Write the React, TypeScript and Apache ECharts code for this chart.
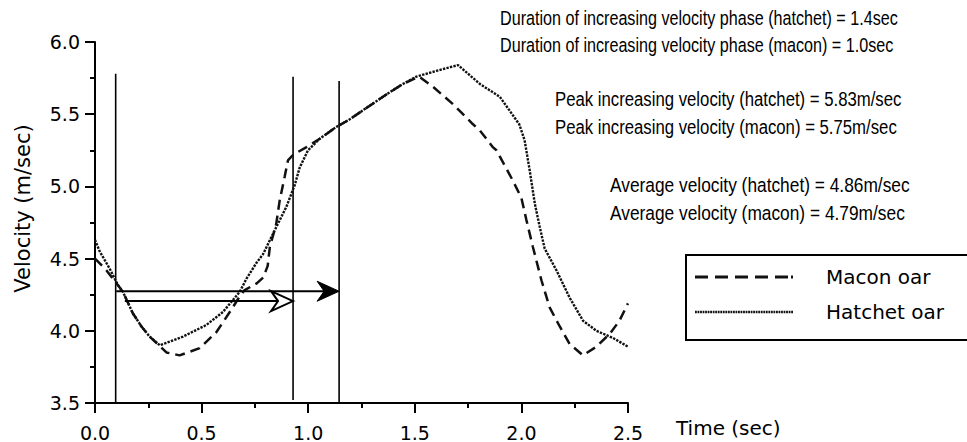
import { useEffect, useRef } from 'react';
import * as echarts from 'echarts';

// Time (sec) / velocity (m/sec)
const maconData: number[][] = [
  [0.0, 4.5], [0.053, 4.42], [0.108, 4.315], [0.131, 4.27], [0.178, 4.12], [0.218, 4.03],
  [0.256, 3.96], [0.3, 3.9], [0.335, 3.85], [0.397, 3.83], [0.491, 3.88], [0.569, 3.99],
  [0.632, 4.13], [0.671, 4.22], [0.7, 4.28], [0.76, 4.33], [0.79, 4.37], [0.81, 4.45],
  [0.82, 4.58], [0.85, 4.74], [0.866, 4.9], [0.89, 5.07], [0.905, 5.18], [0.93, 5.22],
  [0.99, 5.27], [1.054, 5.33], [1.13, 5.41], [1.19, 5.46], [1.26, 5.53], [1.37, 5.64],
  [1.445, 5.71], [1.52, 5.76], [1.585, 5.69], [1.679, 5.57], [1.773, 5.43], [1.804, 5.39],
  [1.867, 5.27], [1.883, 5.25], [1.96, 5.04], [2.0, 4.92], [2.023, 4.77], [2.054, 4.58],
  [2.094, 4.35], [2.133, 4.16], [2.18, 4.03], [2.226, 3.91], [2.289, 3.83], [2.352, 3.89],
  [2.415, 3.98], [2.46, 4.07], [2.5, 4.19],
];

const hatchetData: number[][] = [
  [0.0, 4.63], [0.022, 4.55], [0.069, 4.43], [0.108, 4.315], [0.131, 4.27], [0.178, 4.12],
  [0.218, 4.03], [0.256, 3.96], [0.304, 3.9], [0.413, 3.96], [0.522, 4.04], [0.6, 4.13],
  [0.679, 4.27], [0.71, 4.36], [0.757, 4.47], [0.788, 4.53], [0.851, 4.72], [0.898, 4.86],
  [0.937, 5.01], [0.96, 5.13], [0.999, 5.25], [1.054, 5.33], [1.13, 5.41], [1.19, 5.46],
  [1.26, 5.53], [1.37, 5.64], [1.445, 5.71], [1.507, 5.76], [1.601, 5.8], [1.703, 5.84],
  [1.805, 5.71], [1.899, 5.62], [1.99, 5.43], [2.015, 5.32], [2.039, 5.11], [2.063, 4.88],
  [2.086, 4.72], [2.109, 4.57], [2.164, 4.42], [2.226, 4.23], [2.289, 4.07], [2.352, 4.0],
  [2.43, 3.95], [2.5, 3.89],
];

// vertical phase markers: [time, fromVelocity, toVelocity]
const phaseMarkers: number[][] = [
  [0.097, 3.5, 5.78],
  [0.929, 3.52, 5.76],
  [1.145, 3.5, 5.73],
];

// duration arrows: [fromTime, toTime, velocity, filledHead(1) / openHead(0)]
const durationArrows: number[][] = [
  [0.1, 1.145, 4.274, 1],
  [0.14, 0.929, 4.206, 0],
];

const seriesNames = ['Macon oar', 'Hatchet oar'];

const noteTexts = [
  'Duration of increasing velocity phase (hatchet) = 1.4sec',
  'Duration of increasing velocity phase (macon) = 1.0sec',
  'Peak increasing velocity (hatchet) = 5.83m/sec',
  'Peak increasing velocity (macon) = 5.75m/sec',
  'Average velocity (hatchet) = 4.86m/sec',
  'Average velocity (macon) = 4.79m/sec',
];

// layout of the notes: [left, capCenterY, targetWidthOfFirstLineOfPair]
const noteLayout = [
  [500, 18, 398],
  [500, 45, 398],
  [555, 100, 347],
  [555, 128, 347],
  [610, 185, 300],
  [610, 213, 300],
];

const NOTE_FONT_SIZE = 19.5;
const NOTE_FONT = 'Liberation Sans';

function measure(text: string, size: number, family: string): number {
  const c = document.createElement('canvas').getContext('2d');
  if (!c) return text.length * size * 0.5;
  c.font = `${size}px "${family}"`;
  return c.measureText(text).width;
}

function dashIcon(): string {
  let d = '';
  for (let x = 0; x < 90; x += 20) d += `M${x} 0h13v3h-13z`;
  d += 'M96 0h2v3h-2z';
  return 'path://' + d;
}

function dotIcon(): string {
  let d = '';
  for (let x = 0; x < 97; x += 2.5) d += `M${x} 0h1.8v2.4h-1.8z`;
  return 'path://' + d;
}

const black = '#000';

const tickOnlyAxis = (len: number) => ({
  axisLine: { show: false },
  axisTick: { show: true, inside: false, length: len, lineStyle: { color: black, width: 2 } },
  axisLabel: { show: false },
  splitLine: { show: false },
});

export default function App() {
  const ref = useRef<HTMLDivElement>(null);

  useEffect(() => {
    document.body.style.margin = '0';
    if (!ref.current) return;
    const chart = echarts.init(ref.current, undefined, { renderer: 'svg' });

    const noteGraphics = noteTexts.map((t, i) => {
      const pairFirst = noteTexts[i - (i % 2)];
      const w = measure(pairFirst, NOTE_FONT_SIZE, NOTE_FONT);
      const s = noteLayout[i][2] / w;
      return {
        type: 'text',
        x: noteLayout[i][0],
        y: noteLayout[i][1],
        scaleX: s,
        silent: true,
        style: {
          text: t,
          fontSize: NOTE_FONT_SIZE,
          fontFamily: NOTE_FONT,
          fill: black,
          align: 'left',
          verticalAlign: 'middle',
        },
      };
    });

    const tickFont = { fontFamily: 'DejaVu Sans', fontSize: 19, color: black };

    chart.setOption({
      animation: false,
      backgroundColor: '#fff',
      grid: { left: 95, top: 42, width: 533, height: 361, containLabel: false, outerBoundsMode: 'none' },
      legend: {
        data: [
          { name: seriesNames[0], icon: dashIcon() },
          { name: seriesNames[1], icon: dotIcon() },
        ],
        orient: 'vertical',
        left: 686,
        top: 255,
        itemWidth: 98,
        itemHeight: 3,
        itemGap: 15,
        padding: [12, 40, 18, 9],
        borderColor: black,
        borderWidth: 2,
        selectedMode: false,
        itemStyle: { color: '#111', borderWidth: 0 },
        textStyle: {
          fontFamily: 'DejaVu Sans',
          fontSize: 20,
          lineHeight: 20,
          color: black,
          padding: [0, 0, 0, 28],
        },
      },
      xAxis: [
        {
          type: 'value',
          position: 'bottom',
          min: 0,
          max: 2.5,
          interval: 0.5,
          name: 'Time (sec)',
          nameLocation: 'end',
          nameGap: 48,
          nameTextStyle: {
            fontFamily: 'DejaVu Sans',
            fontSize: 20,
            color: black,
            align: 'left',
            verticalAlign: 'top',
            lineHeight: 50,
          },
          axisLine: { show: true, onZero: false, lineStyle: { color: black, width: 2 } },
          axisTick: { show: true, inside: false, length: 10, lineStyle: { color: black, width: 2 } },
          splitLine: { show: false },
          axisLabel: { ...tickFont, inside: false, margin: 20, formatter: (v: number) => v.toFixed(1) },
        },
        {
          type: 'value',
          position: 'bottom',
          offset: 0,
          min: 0,
          max: 2.5,
          interval: 0.25,
          ...tickOnlyAxis(5),
        },
      ],
      yAxis: [
        {
          type: 'value',
          position: 'left',
          min: 3.5,
          max: 6,
          interval: 0.5,
          name: 'Velocity (m/sec)',
          nameLocation: 'middle',
          nameGap: 62,
          nameTextStyle: {
            fontFamily: 'DejaVu Sans',
            fontSize: 21,
            color: black,
            padding: [0, 0, 0, 28],
          },
          axisLine: { show: true, onZero: false, lineStyle: { color: black, width: 2 } },
          axisTick: { show: true, inside: false, length: 10, lineStyle: { color: black, width: 2 } },
          splitLine: { show: false },
          axisLabel: { ...tickFont, inside: false, margin: 15, formatter: (v: number) => v.toFixed(1) },
        },
        {
          type: 'value',
          position: 'left',
          offset: 0,
          min: 3.5,
          max: 6,
          interval: 0.25,
          ...tickOnlyAxis(5),
        },
      ],
      graphic: noteGraphics,
      series: [
        {
          name: seriesNames[0],
          type: 'line',
          data: maconData,
          symbol: 'none',
          showSymbol: false,
          color: '#111',
          lineStyle: { color: '#111', width: 2.5, type: [10, 6] },
          z: 3,
        },
        {
          name: seriesNames[1],
          type: 'line',
          data: hatchetData,
          symbol: 'none',
          showSymbol: false,
          color: '#111',
          lineStyle: { color: '#111', width: 2.4, type: [2.4, 1.2] },
          z: 3,
        },
        {
          type: 'custom',
          silent: true,
          clip: false,
          data: phaseMarkers,
          encode: { x: 0, y: [1, 2] },
          renderItem: (_p: any, api: any) => {
            const a = api.coord([api.value(0), api.value(1)]);
            const b = api.coord([api.value(0), api.value(2)]);
            return {
              type: 'line',
              shape: { x1: a[0], y1: a[1], x2: b[0], y2: b[1] },
              style: { stroke: black, lineWidth: 1.6 },
            };
          },
          z: 2,
        },
        {
          type: 'custom',
          silent: true,
          clip: false,
          data: durationArrows,
          encode: { x: [0, 1], y: 2 },
          renderItem: (_p: any, api: any) => {
            const a = api.coord([api.value(0), api.value(2)]);
            const b = api.coord([api.value(1), api.value(2)]);
            const filled = api.value(3) === 1;
            const L = 22;
            const H = 10;
            const N = 15;
            return {
              type: 'group',
              children: [
                {
                  type: 'line',
                  shape: { x1: a[0], y1: a[1], x2: b[0] - N, y2: b[1] },
                  style: { stroke: black, lineWidth: 2 },
                },
                {
                  type: 'polygon',
                  shape: {
                    points: [
                      [b[0], b[1]],
                      [b[0] - L, b[1] - H],
                      [b[0] - N, b[1]],
                      [b[0] - L, b[1] + H],
                    ],
                  },
                  style: filled
                    ? { fill: black, stroke: black, lineWidth: 1 }
                    : { fill: '#fff', stroke: black, lineWidth: 2 },
                },
              ],
            };
          },
          z: 4,
        },
      ],
    });

    return () => chart.dispose();
  }, []);

  return (
    <div
      ref={ref}
      style={{ position: 'fixed', left: 0, top: 0, width: 967, height: 442, background: '#fff' }}
    />
  );
}
